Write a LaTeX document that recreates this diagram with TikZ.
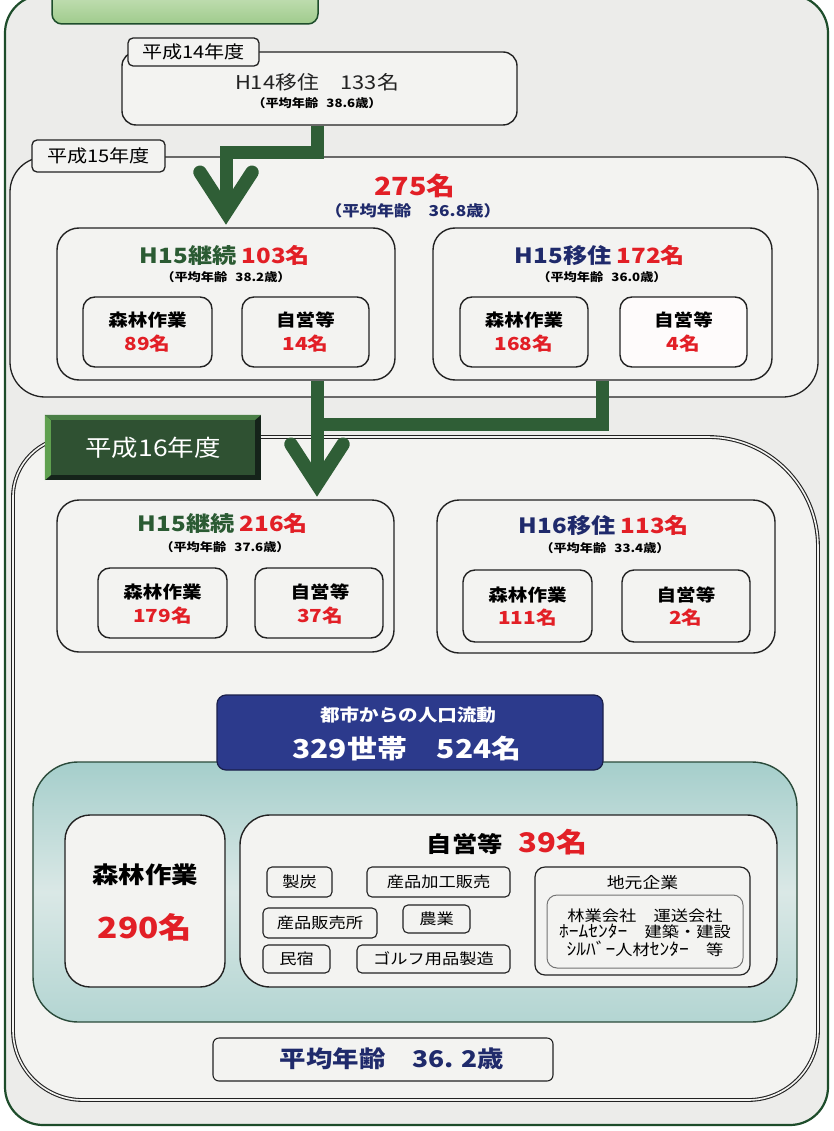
\documentclass[tikz,border=0pt]{standalone}
\usepackage{fontspec}
\setmainfont{Noto Sans CJK JP}[FakeStretch=1.15]
\usetikzlibrary{calc}
\definecolor{bg}{HTML}{ECECEA}
\definecolor{boxfill}{HTML}{F3F3F1}
\definecolor{edge}{HTML}{222222}
\definecolor{framegreen}{HTML}{1E4D2B}
\definecolor{arrowgreen}{HTML}{2F5E36}
\definecolor{numred}{HTML}{E21F26}
\definecolor{navy}{HTML}{1F2A6B}
\definecolor{dgreen}{HTML}{2B5B33}
\definecolor{flowblue}{HTML}{2C3A8C}
\definecolor{flowedge}{HTML}{1A1F4A}
\definecolor{teal1}{HTML}{A5CECB}
\definecolor{teal2}{HTML}{DAE8E6}
\definecolor{teal3}{HTML}{B3D5D2}
\definecolor{tealedge}{HTML}{2A4A3A}
\definecolor{titletop}{HTML}{DCEDD0}
\definecolor{titlebot}{HTML}{9FCB8C}
\definecolor{tagdark}{HTML}{2F5132}
\definecolor{tagedge}{HTML}{15231A}
\definecolor{bevelL}{HTML}{5FA04F}
\definecolor{bevelT}{HTML}{4A7E46}
\newcommand\fz[1]{\fontsize{#1}{#1}\selectfont}
\newcommand\gap{\hspace{0.7em}}
\begin{document}
\begin{tikzpicture}[x=1pt,y=-1pt,
  every node/.style={inner sep=0pt},
  box/.style={draw=edge, line width=1.4pt, fill=boxfill, rounded corners=#1},
  box/.default=18,
  sbox/.style={draw=edge, line width=1.1pt, fill=boxfill, rounded corners=5pt, font=\fz{15}},
  tagbox/.style={draw=edge, line width=1.3pt, fill=boxfill, rounded corners=5pt, font=\fz{17.5}},
  stem/.style={draw=arrowgreen, line width=13pt, line join=miter},
  chev/.style={draw=arrowgreen, line width=13.5pt, line join=miter, line cap=round},
  sub/.style={font=\bfseries\fz{11.5}},
]
\useasboundingbox (0,0) rectangle (834,1131);
\clip (0,0) rectangle (834,1131);
\fill[white] (0,0) rectangle (834,1131);

% outer frame
\node[draw=framegreen, line width=2.2pt, fill=bg, rounded corners=38,
      minimum width=823, minimum height=1130] (frame) at (416.5,560) {};
% title box (cut off at the top)
\node[draw=framegreen, line width=1.5pt, rounded corners=10, top color=titletop, bottom color=titlebot,
      minimum width=266, minimum height=50] (title) at (185,-1) {};

% year frames
\node[box=35, line width=1.3pt, minimum width=808, minimum height=240] (box15) at (414,277) {};
\path[draw=edge, line width=1.1pt, double=boxfill, double distance=1.6pt, fill=boxfill]
  (13,497) .. controls (13,464) and (40,437) .. (73,437) -- (708,437)
  .. controls (768.7,437) and (818,486.3) .. (818,547) -- (818,1030)
  .. controls (818,1068.6) and (786.6,1100) .. (748,1100) -- (83,1100)
  .. controls (44.4,1100) and (13,1068.6) .. (13,1030) -- cycle;

% H14
\node[box=14, minimum width=395, minimum height=73] (h14) at (319.5,88.5) {};
\node[tagbox, minimum width=131, minimum height=28] (tag14) at (193.5,52) {平成14年度};
\node[tagbox, minimum width=133, minimum height=32] (tag15) at (98.5,156) {平成15年度};

% H15 inner boxes
\node[box=22, minimum width=338, minimum height=152] (h15c) at (226,304) {};
\node[box=12, minimum width=129, minimum height=70] (h15cf) at (147.5,332) {};
\node[box=12, minimum width=127, minimum height=70] (h15cs) at (305.5,332) {};
\node[box=22, minimum width=339, minimum height=152] (h15m) at (602.5,304) {};
\node[box=12, minimum width=128, minimum height=70] (h15mf) at (524,332) {};
\node[box=12, minimum width=127, minimum height=70, fill=boxfill!85!red!8] (h15ms) at (683.5,332) {};

% H16 inner boxes
\node[box=22, minimum width=337, minimum height=152] (h16c) at (225.5,576) {};
\node[box=12, minimum width=129, minimum height=70] (h16cf) at (162.5,603) {};
\node[box=12, minimum width=128, minimum height=70] (h16cs) at (319,603) {};
\node[box=22, minimum width=338, minimum height=153] (h16m) at (606,576.5) {};
\node[box=12, minimum width=129, minimum height=72] (h16mf) at (527.5,606) {};
\node[box=12, minimum width=128, minimum height=72] (h16ms) at (686,606) {};

% arrows
\coordinate (k) at (317,153);
\coordinate (j) at (317,424);
\draw[stem] (h14.south -| k) -- (k) -| ($(h15c.north)+(0,-15)$);
\draw[chev] ($(h15c.north)+(-26,-55)$) -- ($(h15c.north)+(0,-15)$) -- ($(h15c.north)+(26,-55)$);
\draw[stem] (h15m.south) |- (j);
\draw[stem] (h15c.south -| j) -- ($(h16c.north -| j)+(0,-15)$);
\draw[chev] ($(h16c.north -| j)+(-26,-55)$) -- ($(h16c.north -| j)+(0,-15)$) -- ($(h16c.north -| j)+(26,-55)$);

% tag 16 (bevelled)
\node[fill=tagedge, minimum width=216, minimum height=65] (tag16) at (153,447.5) {};
\fill[bevelL] (tag16.north west) -- (tag16.south west) -- ($(tag16.south west)+(6,-5)$) -- ($(tag16.north west)+(6,5)$) -- cycle;
\fill[bevelT] (tag16.north west) -- (tag16.north east) -- ($(tag16.north east)+(-6,5)$) -- ($(tag16.north west)+(6,5)$) -- cycle;
\node[fill=tagdark, minimum width=204, minimum height=55, text=white, font=\fz{23}] (tag16in) at (153,447.5) {平成16年度};

% summary area
\node[draw=tealedge, line width=1.4pt, rounded corners=45, top color=teal1, bottom color=teal3, middle color=teal2,
      minimum width=764, minimum height=260] (teal) at (415,892) {};
\node[draw=flowedge, line width=1.2pt, fill=flowblue, rounded corners=9, minimum width=386, minimum height=75] (flow) at (410,732.5) {};
\node[box=25, minimum width=160, minimum height=172] (f290) at (145,901) {};
\node[box=30, minimum width=537, minimum height=172] (self) at (508.5,901) {};
\node[sbox, minimum width=65, minimum height=30] (b1) at (299.5,882) {製炭};
\node[sbox, minimum width=143, minimum height=30] (b2) at (438.5,882) {産品加工販売};
\node[sbox, minimum width=114, minimum height=30] (b3) at (320,923) {産品販売所};
\node[sbox, minimum width=67, minimum height=28] (b4) at (436.5,919) {農業};
\node[sbox, minimum width=67, minimum height=28] (b5) at (296.5,959) {民宿};
\node[sbox, minimum width=153, minimum height=28] (b6) at (433.5,959) {ゴルフ用品製造};
\node[box=10, line width=1.2pt, minimum width=215, minimum height=108] (jim) at (642.5,921) {};
\node[draw=black!55, line width=1pt, rounded corners=10, fill=boxfill, minimum width=196, minimum height=73] (jimin) at (645,931.5) {};
\node[box=6, line width=1.1pt, minimum width=340, minimum height=43] (avg) at (383,1059.5) {};

% texts
\node (h14a) at (317,82) {\fz{19}\color{edge}H14移住　133名};
\node[sub] (h14b) at (317,103) {（平均年齢\gap 38.6歳）};
\node (t275) at (415,186) {\bfseries\fz{25}\color{numred}275名};
\node (t275b) at (413,211) {\bfseries\fz{15}\color{navy}（平均年齢　36.8歳）};

\node (h15ca) at (225,255) {\bfseries\fz{21}\textcolor{dgreen}{H15継続} \textcolor{numred}{103名}};
\node[sub] (h15cb) at (226,277) {（平均年齢\gap 38.2歳）};
\node (h15cfa) at (147.5,320) {\bfseries\fz{17}森林作業};
\node (h15cfb) at (147.5,344) {\bfseries\fz{18}\color{numred}89名};
\node (h15csa) at (305.5,320) {\bfseries\fz{17}自営等};
\node (h15csb) at (305.5,344) {\bfseries\fz{18}\color{numred}14名};

\node (h15ma) at (600,255) {\bfseries\fz{21}\textcolor{navy}{H15移住} \textcolor{numred}{172名}};
\node[sub] (h15mb) at (602,277) {（平均年齢\gap 36.0歳）};
\node (h15mfa) at (524,320) {\bfseries\fz{17}森林作業};
\node (h15mfb) at (524,344) {\bfseries\fz{18}\color{numred}168名};
\node (h15msa) at (683.5,320) {\bfseries\fz{17}自営等};
\node (h15msb) at (683.5,344) {\bfseries\fz{18}\color{numred}4名};

\node (h16ca) at (223,523) {\bfseries\fz{21}\textcolor{dgreen}{H15継続} \textcolor{numred}{216名}};
\node[sub] (h16cb) at (225,547) {（平均年齢\gap 37.6歳）};
\node (h16cfa) at (162.5,592) {\bfseries\fz{17}森林作業};
\node (h16cfb) at (162.5,616) {\bfseries\fz{18}\color{numred}179名};
\node (h16csa) at (320,592) {\bfseries\fz{17}自営等};
\node (h16csb) at (320,616) {\bfseries\fz{18}\color{numred}37名};

\node (h16ma) at (604,525) {\bfseries\fz{21}\textcolor{navy}{H16移住} \textcolor{numred}{113名}};
\node[sub] (h16mb) at (605,548) {（平均年齢\gap 33.4歳）};
\node (h16mfa) at (527.5,595) {\bfseries\fz{17}森林作業};
\node (h16mfb) at (527.5,618) {\bfseries\fz{18}\color{numred}111名};
\node (h16msa) at (686,595) {\bfseries\fz{17}自営等};
\node (h16msb) at (686,618) {\bfseries\fz{18}\color{numred}2名};

\node (flowa) at (408,715) {\bfseries\fz{17}\color{white}都市からの人口流動};
\node (flowb) at (407,749) {\bfseries\fz{26}\color{white}329世帯　524名};

\node (f290a) at (145,875) {\bfseries\fz{23}森林作業};
\node (f290b) at (145,927) {\bfseries\fz{29}\color{numred}290名};
\node (selfa) at (507,842) {\bfseries\fz{22}自営等\hspace{0.7em}\textcolor{numred}{\fz{27}39名}};
\node (jima) at (642.5,883) {\fz{15.5}地元企業};
\node[align=center, font=\fz{15}, text depth=0pt] (jimb) at (645,932) {林業会社　運送会社\\[1pt]{\fz{17}ﾎｰﾑｾﾝﾀｰ}　建築・建設\\[1pt]{\fz{17}ｼﾙﾊﾞｰ}人材{\fz{17}ｾﾝﾀｰ}　等};
\node (avga) at (392,1059) {\bfseries\fz{23}\color{navy}平均年齢　36. 2歳};
\end{tikzpicture}
\end{document}
